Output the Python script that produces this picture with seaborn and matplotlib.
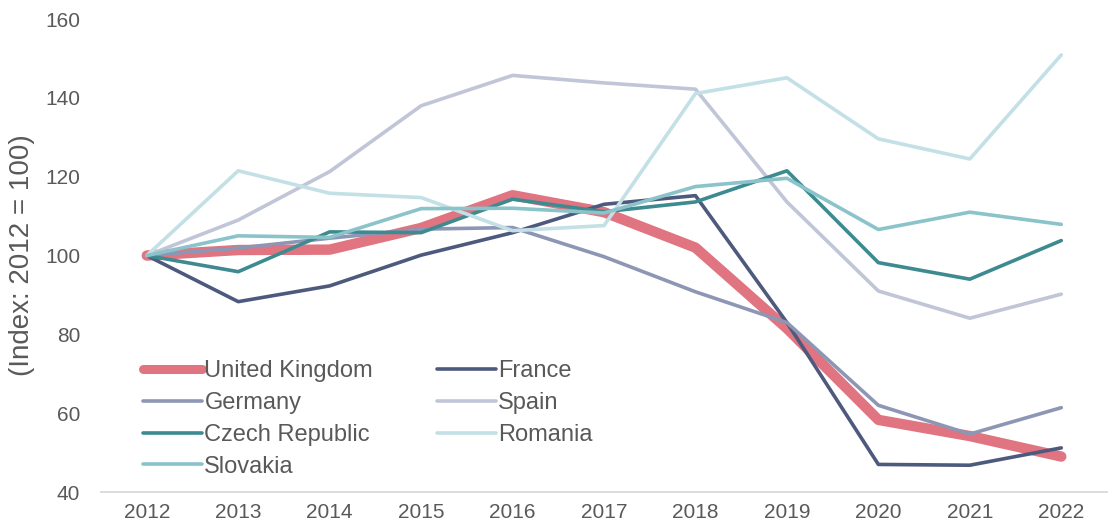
import pandas as pd
import matplotlib.pyplot as plt
import seaborn as sns

sns.set_style("white")
plt.rcParams['font.family'] = ['Liberation Sans', 'DejaVu Sans']

# data
years = ['2012', '2013', '2014', '2015', '2016', '2017', '2018', '2019', '2020', '2021', '2022']
uk = [100, 101.4, 101.5, 107, 115.3, 111, 102, 81.5, 58.3, 54.2, 49]
france = [100, 88.3, 92.3, 100.1, 105.8, 113, 115.2, 83, 47, 46.8, 51.2]
germany = [100, 101.9, 104.4, 106.7, 107.1, 99.7, 90.8, 83, 62, 54.7, 61.4]
spain = [100, 109, 121.3, 138, 145.7, 143.8, 142.2, 113.6, 91, 84.1, 90.2]
czech = [100, 95.9, 106, 105.8, 114.3, 111.1, 113.6, 121.5, 98.2, 94, 103.8]
romania = [100, 121.5, 115.8, 114.7, 106.3, 107.6, 141.1, 145.1, 129.6, 124.5, 150.9]
slovakia = [100, 105, 104.6, 111.9, 112, 110.8, 117.5, 119.6, 106.6, 111, 107.9]

countries = ['United Kingdom', 'France', 'Germany', 'Spain', 'Czech Republic', 'Romania', 'Slovakia']
series = [uk, france, germany, spain, czech, romania, slovakia]
colors = ['#E07480', '#4E5A7D', '#8D96B4', '#C1C5D8', '#3E8A91', '#C3E0E6', '#8BC3CA']
widths = [7.5, 2.6, 2.6, 2.6, 2.6, 2.6, 2.6]

df = pd.DataFrame({'year': years * len(countries),
                   'value': sum(series, []),
                   'country': [c for c in countries for _ in years]})

fig = plt.figure(figsize=(11.13, 5.29), dpi=100)
ax = fig.add_axes([0.0908, 0.0699, 0.9038, 0.8941])

for c, col, lw in zip(countries, colors, widths):
    sns.lineplot(data=df[df.country == c], x='year', y='value', color=col,
                 linewidth=lw, solid_capstyle='round', label=c, ax=ax)

ax.set_xlim(-0.5, 10.5)
ax.set_ylim(40, 160)
ax.set_yticks(range(40, 161, 20))
ax.set_xlabel('')
ax.set_ylabel('(Index: 2012 = 100)', fontsize=20, color='#595959')
ax.yaxis.set_label_coords(-0.066, 0.5)
ax.tick_params(axis='both', length=0, labelsize=15, labelcolor='#595959')
ax.tick_params(axis='x', pad=8)
ax.tick_params(axis='y', pad=15)
for s in ['top', 'right', 'left']:
    ax.spines[s].set_visible(False)
ax.spines['bottom'].set_color('#D9D9D9')
ax.spines['bottom'].set_linewidth(1.3)

# order legend row by row
h, l = ax.get_legend_handles_labels()
order = [0, 2, 4, 6, 1, 3, 5]
leg = ax.legend([h[i] for i in order], [l[i] for i in order], ncol=2, frameon=False,
                fontsize=17, labelcolor='#595959', handlelength=2.5, handletextpad=0.1,
                columnspacing=2.7, labelspacing=0.42, borderpad=0, borderaxespad=0,
                loc='upper left', bbox_to_anchor=(143 / 1113, 1 - 360 / 529),
                bbox_transform=fig.transFigure)
for line in leg.get_lines():
    if line.get_linewidth() > 5:
        line.set_linewidth(6.5)

fig.savefig('out.png', dpi=100)
